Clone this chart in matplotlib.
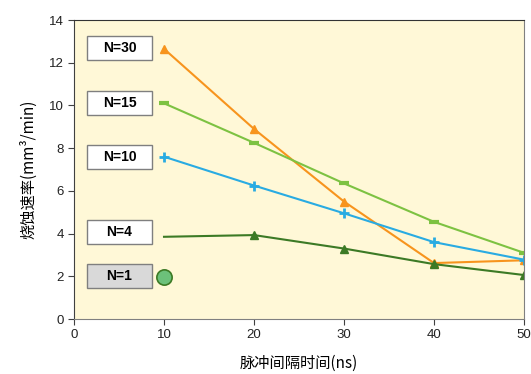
import matplotlib.pyplot as plt
from matplotlib.patches import Rectangle

x = [10, 20, 30, 40, 50]
n30 = [12.65, 8.9, 5.5, 2.62, 2.75]
n15 = [10.1, 8.25, 6.35, 4.55, 3.1]
n10 = [7.6, 6.25, 4.95, 3.6, 2.78]
n4 = [3.85, 3.93, 3.3, 2.57, 2.06]
n1_x = [10]
n1 = [1.97]

labels = ['N=30', 'N=15', 'N=10', 'N=4', 'N=1']
label_y = [12.7, 10.1, 7.6, 4.07, 2.0]

cjk = ['Noto Sans CJK SC', 'DejaVu Sans']
plt.rcParams['font.family'] = ['Liberation Sans', 'DejaVu Sans']

fig = plt.figure(figsize=(5.31, 3.74), dpi=100)
ax = fig.add_axes([0.1394, 0.147, 0.8474, 0.7995])
ax.set_facecolor('#FFF8D7')

ax.plot(x, n30, color='#F7941D', lw=1.5, marker='^', ms=6)
ax.plot(x, n15, color='#7DC242', lw=1.5, marker='_', ms=7, mew=3)
ax.plot(x, n10, color='#29ABE2', lw=1.5, marker='+', ms=7, mew=2)
ax.plot(x[1:], n4[1:], color='#3C7A25', lw=1.5, marker='^', ms=6, ls='none')
ax.plot(x, n4, color='#3C7A25', lw=1.5)
ax.plot(n1_x, n1, 'o', ms=11, color='#6CC17A', mec='#3C7A25', mew=1.2)

for lab, yy in zip(labels, label_y):
    fc = '#D9D9D9' if lab == 'N=1' else 'white'
    ax.add_patch(Rectangle((1.44, yy - 0.56), 7.22, 1.12, fc=fc, ec='#7F7F7F', lw=1, zorder=3))
    ax.text(5.05, yy, lab, ha='center', va='center', fontsize=10, fontweight='bold', zorder=4)

ax.set_xlim(0, 50)
ax.set_ylim(0, 14)
ax.set_xticks([0, 10, 20, 30, 40, 50])
ax.set_yticks(range(0, 15, 2))
ax.tick_params(labelsize=9.5, length=4, color='#404040', labelcolor='#222222')
for s in ['left', 'bottom', 'right']:
    ax.spines[s].set_color('#808080')
ax.spines['top'].set_color('#333333')
ax.spines['left'].set_color('#404040')

ax.set_xlabel('脉冲间隔时间(ns)', family=cjk, fontsize=11, labelpad=10)
ax.set_ylabel('烧蚀速率(mm³/min)', family=cjk, fontsize=11, labelpad=8)

fig.savefig('out.png', dpi=100)
